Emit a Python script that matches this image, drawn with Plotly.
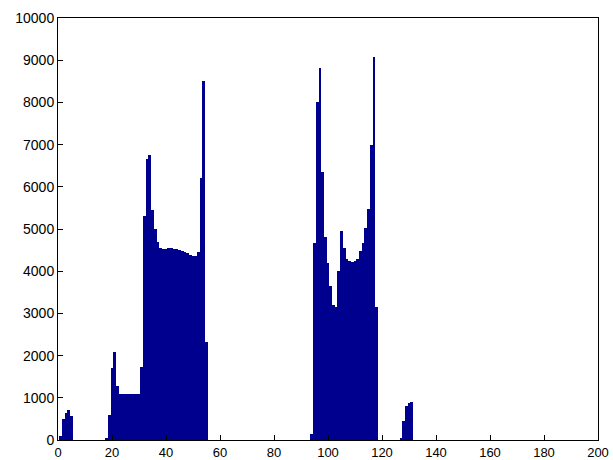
import plotly.graph_objects as go

# Histogram bin centres and counts (bins with no count are zero)
bin_centers = list(range(1, 132))

group1 = [100, 500, 650, 720, 560]                      # bins 1-5
gap1 = [0] * 12                                         # bins 6-17
group2 = [30, 600, 1700, 2080, 1280,                     # bins 18-22
          1090, 1080, 1080, 1080, 1080, 1080, 1080, 1090,  # bins 23-30
          1720, 5300, 6650, 6750, 5450, 5000, 4700, 4550,  # bins 31-38
          4520, 4530, 4540, 4540, 4530, 4520, 4500, 4480,  # bins 39-46
          4460, 4420, 4390, 4360, 4350, 4450,              # bins 47-52
          6200, 8500, 2330]                                # bins 53-55
gap2 = [0] * 38                                         # bins 56-93
group3 = [150, 4670, 8000, 8820, 6360, 4800, 4200,       # bins 94-100
          3650, 3200, 3160, 4000, 4950, 4540, 4280,      # bins 101-107
          4230, 4220, 4230, 4300, 4490, 4680, 5030,      # bins 108-114
          5480, 7000, 9080, 3160]                        # bins 115-118
gap3 = [0] * 8                                          # bins 119-126
group4 = [40, 450, 800, 880, 910]                        # bins 127-131

counts = group1 + gap1 + group2 + gap2 + group3 + gap3 + group4

x_ticks = [0, 20, 40, 60, 80, 100, 120, 140, 160, 180, 200]
y_ticks = [0, 1000, 2000, 3000, 4000, 5000, 6000, 7000, 8000, 9000, 10000]

fig = go.Figure(go.Bar(
    x=bin_centers, y=counts, width=1.0,
    marker=dict(color="rgb(0,0,143)", line=dict(width=0)),
))

axis_common = dict(
    showgrid=False, zeroline=False, showline=True, linecolor="black",
    linewidth=1, mirror=True, ticks="inside", ticklen=5, tickcolor="black",
)
font_y = dict(family="Liberation Sans, Arial, sans-serif", size=14, color="black")
font_x = dict(family="Liberation Sans, Arial, sans-serif", size=13, color="black")

fig.update_layout(
    width=613, height=460,
    margin=dict(l=58, r=15, t=18, b=20, autoexpand=False),
    paper_bgcolor="white", plot_bgcolor="white",
    bargap=0, showlegend=False,
    xaxis=dict(range=[0, 200], tickvals=x_ticks, ticktext=[str(v) for v in x_ticks],
               tickfont=font_x, **axis_common),
    yaxis=dict(range=[0, 10000], tickvals=y_ticks, ticktext=[str(v) for v in y_ticks],
               tickfont=font_y, **axis_common),
)

fig.write_html("out.html", config={"displayModeBar": False},
               post_script="document.body.style.margin='0';document.body.style.overflow='hidden';")
